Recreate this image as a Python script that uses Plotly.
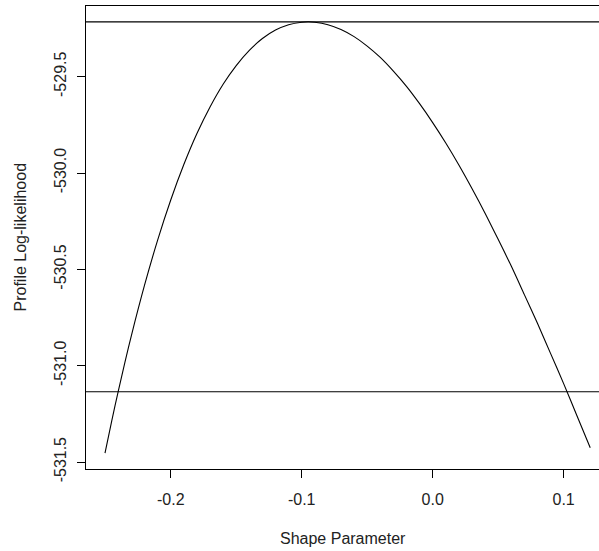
import plotly.graph_objects as go

# Profile log-likelihood of the GEV shape parameter
shape = [-0.2502, -0.245, -0.24, -0.235, -0.23, -0.22, -0.21, -0.20, -0.19, -0.18,
         -0.17, -0.16, -0.15, -0.14, -0.13, -0.12, -0.11, -0.10, -0.095, -0.09,
         -0.08, -0.07, -0.06, -0.05, -0.04, -0.03, -0.02, -0.01, 0.00, 0.01,
         0.02, 0.03, 0.04, 0.05, 0.06, 0.07, 0.08, 0.09, 0.10, 0.11, 0.1203]
profile_ll = [-531.454, -531.285, -531.130, -530.983, -530.842, -530.582, -530.348, -530.140,
              -529.956, -529.795, -529.657, -529.539, -529.442, -529.363, -529.302, -529.258,
              -529.230, -529.217, -529.215, -529.217, -529.230, -529.255, -529.292, -529.341,
              -529.400, -529.471, -529.550, -529.640, -529.738, -529.844, -529.958, -530.080,
              -530.208, -530.344, -530.483, -530.631, -530.780, -530.936, -531.093, -531.257,
              -531.426]

max_loglik = -529.215
ci_cutoff = -531.135   # maximum minus half the 95% chi-square(1) quantile

x_ticks = [-0.2, -0.1, 0.0, 0.1]
x_labels = ["-0.2", "-0.1", "0.0", "0.1"]
y_ticks = [-531.5, -531.0, -530.5, -530.0, -529.5]
y_labels = ["-531.5", "-531.0", "-530.5", "-530.0", "-529.5"]

font_family = "Liberation Sans, Arial, sans-serif"

fig = go.Figure()
fig.add_trace(go.Scatter(
    x=shape, y=profile_ll, mode="lines",
    line=dict(color="black", width=1.1, shape="spline", smoothing=0.8),
    hoverinfo="skip", showlegend=False,
))

for level in (max_loglik, ci_cutoff):
    fig.add_hline(y=level, line=dict(color="black", width=1.2))

fig.update_layout(
    width=599, height=551,
    margin=dict(l=86, r=0, t=6, b=82),
    paper_bgcolor="white", plot_bgcolor="white",
    font=dict(family=font_family, size=16, color="#222"),
    xaxis=dict(
        range=[-0.2647, 0.127], showgrid=False, zeroline=False,
        showline=True, linecolor="black", linewidth=1.2, mirror=True,
        ticks="outside", ticklen=8, tickwidth=1, tickcolor="black",
        tickvals=x_ticks, ticktext=x_labels, ticklabelstandoff=8,
    ),
    yaxis=dict(
        range=[-531.536, -529.133], showgrid=False, zeroline=False,
        showline=True, linecolor="black", linewidth=1.2, mirror=False,
        ticks="outside", ticklen=8, tickwidth=1, tickcolor="black",
        tickvals=y_ticks, ticktext=y_labels, tickangle=-90,
        ticklabelstandoff=5,
    ),
    annotations=[
        dict(text="Shape Parameter", xref="paper", yref="paper",
             x=0.5, y=0, yshift=-69, xanchor="center", yanchor="middle",
             showarrow=False, font=dict(size=16)),
        dict(text="Profile Log-likelihood", xref="paper", yref="paper",
             x=0, y=0.5, xshift=-66, textangle=-90,
             xanchor="center", yanchor="middle",
             showarrow=False, font=dict(size=16)),
    ],
)

fig.write_html("out.html")
